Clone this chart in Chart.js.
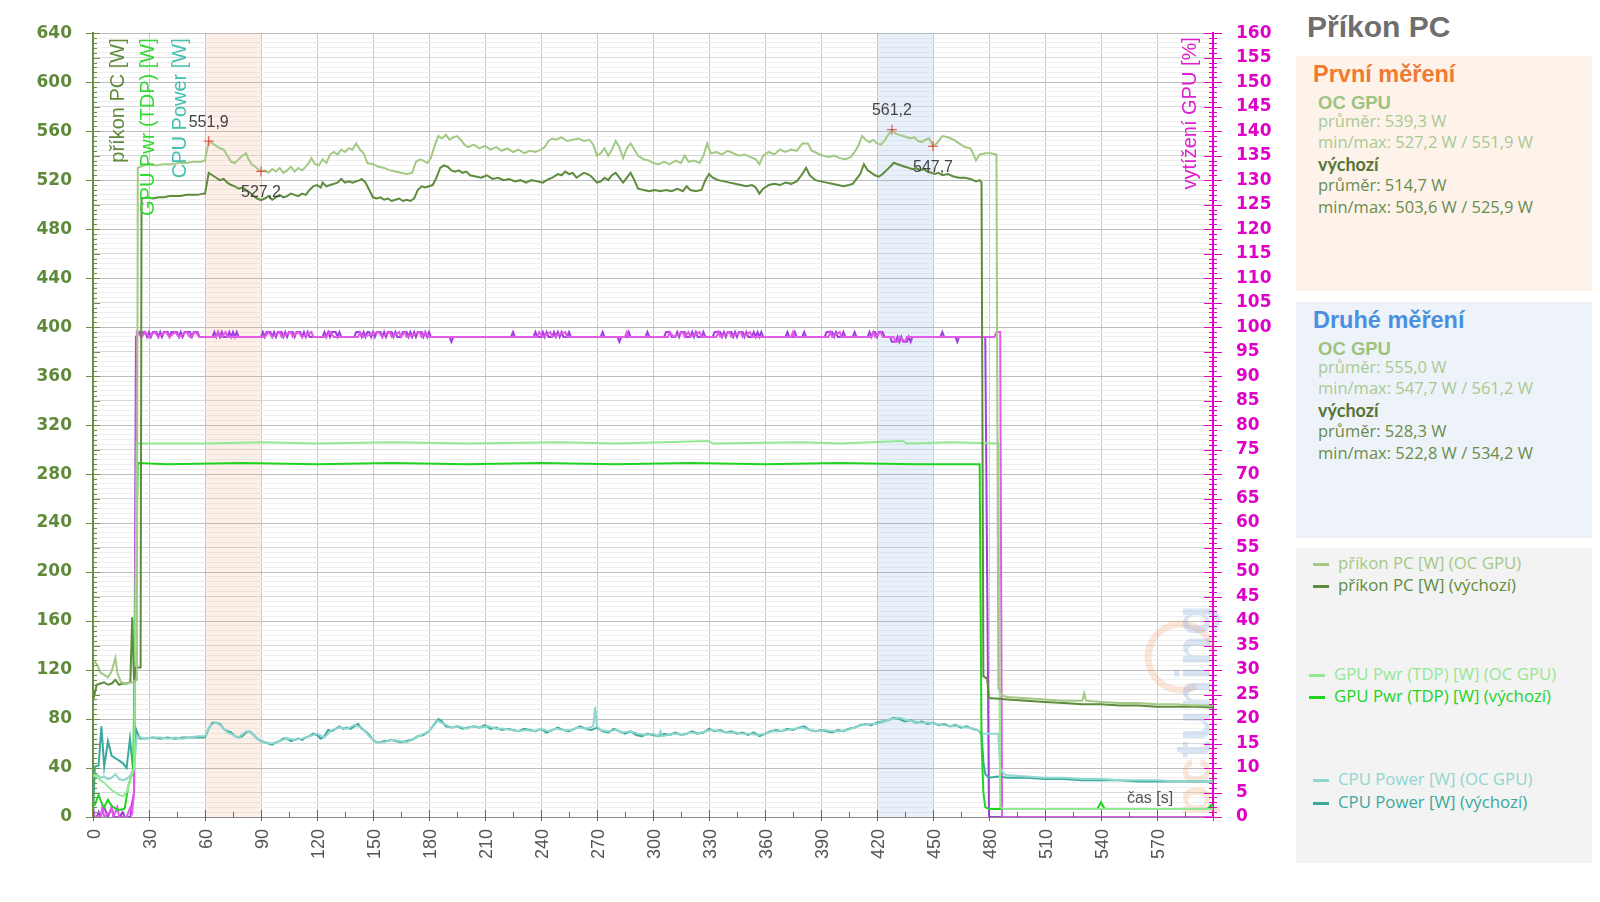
<!DOCTYPE html>
<html><head><meta charset="utf-8">
<script src="https://cdn.jsdelivr.net/npm/chart.js@4.4.0/dist/chart.umd.min.js"></script>
<style>
html,body{margin:0;padding:0;background:#fff;width:1600px;height:902px;overflow:hidden;}
#wrap{position:absolute;left:0;top:0;width:1290px;height:902px;}
.abs{position:absolute;white-space:nowrap;}
.box{position:absolute;left:1296px;width:296px;}
.mk{position:absolute;width:16px;height:3px;}
</style></head><body>
<div id="wrap"><canvas id="c" width="1290" height="902"></canvas></div>
<div class="box" style="top:56px;height:235px;background:#fdf3eb;"></div>
<div class="box" style="top:302px;height:236px;background:#eef3f9;"></div>
<div class="box" style="top:548px;height:315px;background:#f3f3f3;"></div>
<script>
// ---------------- DATA ----------------
const xMax = 600;
const pcOc = [[0,128],[2,125],[4,118],[6,116],[8,114],[10,119],[12,130],[13,118],[15,110],[18,109],[21,110],[23.5,112],[24,530],[27,532],[30,533],[34,532],[38,533],[42,533],[46,534],[50,534],[54,535],[58,535],[60,536],[62,551.9],[64,550],[66,548],[68,546],[70,545],[72,540],[74,535],[76,534],[78,537],[80,540],[82,542],[83,538],[85,533],[87,531],[89,528],[90,527.2],[92,528],[94,526],[96,529],[98,527],[100,530],[102,526],[104,528],[106,531],[108,527],[110,530],[112,528],[114,531],[116,535],[117,538],[119,533],[121,532],[123,537],[125,534],[127,541],[129,543],[131,541],[133,545],[135,543],[137,546],[139,545],[141,550],[143,545],[145,542],[147,534],[150,533],[153,531],[156,530],[159,528],[162,527],[165,526],[168,525],[171,526],[173,535],[175,537],[177,536],[179,534],[181,538],[183,548],[185,556],[187,554],[189,557],[191,553],[193,555],[195,556],[197,553],[199,549],[201,547],[204,549],[207,546],[210,548],[213,545],[216,547],[219,544],[222,546],[225,543],[228,545],[231,542],[234,544],[237,543],[240,545],[242,547],[244,552],[246,554],[248,553],[251,555],[254,552],[257,553],[260,554],[263,552],[266,553],[268,549],[270,540],[272,542],[274,546],[276,540],[278,545],[280,552],[282,547],[284,538],[286,546],[288,550],[290,545],[292,540],[295,537],[298,536],[300,534],[303,533],[306,535],[309,533],[312,536],[315,534],[317,540],[319,535],[322,536],[325,534],[327,540],[329,550],[331,542],[334,543],[337,541],[340,544],[343,542],[346,540],[349,541],[352,539],[355,537],[357,533],[359,540],[362,543],[365,541],[368,545],[371,543],[374,545],[377,544],[380,550],[383,550],[385,544],[388,542],[391,540],[394,539],[397,540],[400,538],[403,537],[406,539],[408,543],[410,548],[412,556],[414,553],[416,551],[418,553],[420,550],[422,549],[424,552],[426,557],[428,561.2],[430,558],[432,557],[434,556],[436,555],[438,554],[440,555],[442,552],[444,551],[446,553],[448,554],[450,547.7],[452,550],[455,556],[458,555],[461,553],[464,550],[467,547],[470,546],[472,540],[473,536],[475,541],[478,542],[481,542],[484,541],[485,105],[486,103],[487,99],[490,98],[500,97],[510,96],[520,95],[530,95],[531,101],[532,95],[540,94],[550,93],[560,93],[570,92],[580,92],[590,91],[600,91]];
const pcDef = [[0,95],[2,108],[4,109],[6,110],[8,108],[10,109],[12,112],[14,108],[16,109],[18,109],[20,110],[21,163],[22,110],[23,122],[25.5,122],[26,505],[29,506],[32,505],[35,506],[38,506],[41,507],[44,507],[47,507],[50,508],[53,508],[56,508],[59,509],[60,509],[62,525.9],[64,524],[66,522],[68,520],[70,521],[72,518],[74,516],[76,515],[78,513],[80,514],[82,512],[84,510],[86,507],[88,505],[90,503.6],[92,505],[94,507],[96,504],[98,506],[100,508],[102,506],[104,507],[106,509],[108,508],[110,507],[112,509],[114,508],[116,512],[118,515],[120,516],[122,514],[123,518],[125,515],[127,516],[129,517],[131,518],[133,521],[135,518],[137,519],[139,518],[141,519],[143,520],[144,521],[146,518],[148,512],[150,506],[152,505],[154,506],[156,504],[158,505],[160,503],[162,504],[164,505],[166,503],[168,504],[170,503],[172,505],[174,512],[176,515],[178,514],[180,515],[182,516],[184,522],[186,530],[188,532],[190,531],[192,528],[194,527],[196,528],[198,526],[200,527],[202,524],[205,523],[208,522],[211,524],[214,521],[217,522],[220,520],[223,521],[226,519],[229,520],[232,518],[235,520],[238,519],[241,518],[243,520],[246,522],[249,525],[251,524],[253,527],[255,525],[257,526],[259,522],[261,524],[263,526],[265,525],[267,523],[270,518],[272,519],[274,522],[276,520],[278,524],[280,526],[282,522],[284,518],[286,522],[288,526],[290,520],[292,513],[295,512],[298,511],[301,512],[304,511],[307,512],[310,511],[313,513],[316,511],[318,515],[320,512],[323,511],[326,512],[328,520],[330,525],[332,522],[335,520],[338,519],[341,518],[344,517],[347,516],[350,515],[353,516],[355,514],[357,509],[359,513],[362,516],[365,517],[368,516],[371,518],[374,517],[377,519],[380,525],[382,530],[384,524],[387,520],[390,519],[393,518],[396,517],[399,516],[402,515],[405,516],[407,517],[409,521],[411,525],[413,533],[415,528],[417,526],[419,524],[421,522.8],[423,525],[425,528],[427,531],[429,534.2],[431,533],[433,532],[435,531],[437,530],[439,529],[441,530],[443,528],[445,529],[447,527],[449,526],[451,525],[453,526],[455,524],[458,525],[461,523],[464,522],[467,522],[470,521],[473,519],[475,520],[476,518],[477,115],[479,113],[480,97],[482,97],[490,96],[500,95],[510,94],[520,93],[530,92],[540,92],[550,91],[560,91],[570,90],[580,90],[590,90],[600,89.5]];
const gpuOc = [[0,36],[2,33],[4,30],[6,28],[8,25],[10,22],[12,20],[14,18],[16,17],[18,20],[20,31],[22,40],[23.5,305],[60,305],[90,306],[120,305],[160,306],[200,305],[250,306],[280,305],[330,307],[332,305],[380,306],[400,305],[434,307],[436,305],[460,306],[485,305],[486,8],[488,6.5],[600,6.5]];
const gpuDef = [[0,11],[1,10],[3,18],[5,10],[6,8],[8,14],[10,9],[11,8],[13,6],[15,6],[17,7],[19,26],[21.5,38],[23,200],[24,289],[40,288],[80,289],[120,288],[160,289],[200,288],[240,289],[280,288],[320,289],[360,288],[400,289],[440,288],[475,288],[476,60],[477,20],[478,8],[480,6.5],[538,6.5],[540,12],[542,6.5],[597,6.5],[599,10],[600,8]];
const cpuOc = [[0,33],[2,35],[4,32],[6,33],[8,31],[10,32],[12,35],[14,31],[16,30],[18,31],[20,34],[22,40],[23.5,66],[28,64],[32,65],[36,65],[40,64],[44,65],[48,64],[52,65],[56,66],[60,66],[63,75],[66,77],[69,74],[72,69],[75,67],[78,65],[82,70],[85,69],[88,64],[92,61],[96,60],[100,62],[104,64],[108,63],[112,64],[116,66],[120,68],[124,65],[128,71],[132,73],[136,72],[140,75],[144,73],[148,66],[152,61],[156,61],[160,63],[164,62],[168,61],[172,64],[176,67],[180,70],[184,79],[188,76],[192,73],[196,74],[200,72],[204,74],[208,73],[212,74],[216,72],[220,72],[224,71],[228,70],[232,71],[236,70],[240,72],[244,70],[248,72],[252,71],[256,71],[260,73],[264,72],[268,74],[269,90],[270,74],[272,71],[276,70],[280,71],[284,69],[288,70],[292,68],[296,67],[300,68],[303,66],[304,70],[305,66],[308,67],[312,68],[316,67],[320,69],[324,68],[328,70],[332,71],[336,70],[340,69],[344,69],[348,68],[352,68],[356,67],[360,68],[364,70],[368,70],[372,71],[376,72],[380,73],[384,71],[388,70],[392,71],[396,70],[400,70],[404,71],[408,73],[412,75],[416,76],[420,76],[424,78],[428,80],[432,81],[436,79],[440,78],[444,77],[448,77],[452,76],[456,75],[460,74],[464,74],[468,73],[472,72],[475,70],[477,68],[485,68],[486,40],[488,35],[490,34],[500,33],[510,32],[520,32],[530,31],[540,31],[550,30],[560,30],[570,30],[580,29],[590,29],[600,29]];
const cpuDef = [[0,0],[1,41],[3,42],[4.5,74],[6,41],[8,62],[10,50],[12,48],[14,46],[16,44],[18,40],[19.8,64],[21.5,38],[23,72],[25,64],[28,64],[32,65],[36,64],[40,65],[44,64],[48,65],[52,65],[56,65],[60,65],[62,72],[64,77],[66,77],[68,76],[70,72],[72,70],[74,69],[76,66],[78,65],[80,66],[82,69],[84,70],[86,67],[88,64],[90,62],[92,61],[94,60],[96,59],[98,61],[100,62],[102,64],[104,64],[106,62],[108,63],[110,64],[112,63],[114,65],[116,66],[118,68],[120,67],[122,64],[124,66],[126,71],[128,70],[130,72],[132,74],[134,72],[136,73],[138,72],[140,74],[142,76],[144,72],[146,70],[148,67],[150,63],[152,61],[154,61],[156,62],[158,62],[160,63],[162,62],[165,61],[168,62],[171,63],[174,66],[177,67],[180,70],[183,76],[185,80],[187,78],[189,74],[192,73],[195,74],[198,72],[201,73],[204,74],[207,73],[210,75],[213,72],[216,73],[219,71],[222,72],[225,71],[228,70],[231,72],[234,71],[237,70],[240,72],[243,69],[246,71],[249,73],[252,71],[255,70],[258,72],[261,74],[264,72],[267,71],[270,73],[273,70],[276,69],[279,72],[282,70],[285,68],[288,70],[291,67],[294,66],[297,68],[300,67],[303,66],[306,68],[309,67],[312,69],[315,67],[318,68],[321,70],[324,68],[327,69],[330,72],[333,70],[336,71],[339,69],[342,70],[345,68],[348,69],[351,67],[354,69],[357,66],[360,68],[363,70],[366,71],[369,70],[372,72],[375,71],[378,73],[381,74],[384,71],[387,70],[390,71],[393,70],[396,69],[399,71],[402,70],[405,72],[408,73],[411,75],[414,76],[417,75],[420,77],[423,78],[426,79],[429,81],[432,80],[435,78],[438,79],[441,77],[444,78],[447,76],[450,77],[453,75],[456,76],[459,74],[462,75],[465,73],[468,74],[471,72],[474,71],[476,68],[477,45],[478,35],[480,32],[485,33],[490,32],[500,32],[510,31],[520,31],[530,30],[540,30],[550,30],[560,29],[570,29],[580,29],[590,29],[600,29]];
const utilOc = [[0,2],[1,0],[4,0],[5,2],[6,0],[9,1],[10,2],[11,0],[13,2],[14,0],[18,0],[20,2],[21,1],[22,5],[23.5,99],[26,98],[28,99],[30,98],[33,99],[35,98],[39,99],[41,98],[44,99],[46,98],[50,99],[52,98],[55,99],[57,98],[66,98],[67,99],[69,98],[71,99],[72,98],[92,98],[94,99],[96,98],[100,99],[101,98],[106,99],[107,98],[110,99],[112,98],[117,99],[118,98],[125,98],[127,99],[129,98],[142,98],[143,99],[145,98],[153,99],[155,98],[159,99],[160,98],[164,99],[165,98],[167,99],[168,98],[175,99],[176,98],[178,99],[180,98],[238,98],[239,99],[241,98],[245,99],[246,98],[253,99],[254,98],[285,98],[286,99],[287,98],[308,98],[309,99],[311,98],[316,99],[317,98],[319,99],[320,98],[325,99],[326,98],[334,98],[335,99],[336,98],[341,99],[342,98],[347,99],[348,98],[352,99],[353,98],[374,98],[375,99],[376,98],[394,98],[395,99],[396,98],[400,99],[401,98],[417,98],[418,99],[419,98],[422,99],[423,98],[429,98],[430,97],[431,97],[432,98],[435,97],[436,98],[483,98],[484,99],[486,99],[487,0],[600,0]];
const utilDef = [[0,0],[2,0],[3,1],[4,0],[6,2],[7,1],[8,0],[10,2],[11,0],[14,0],[16,1],[17,0],[20,0],[21,3],[22,5],[23,98],[25,99],[26,98],[27,99],[28,99],[29,98],[30,99],[31,98],[32,99],[34,99],[35,98],[36,99],[37,98],[38,99],[40,99],[41,98],[42,99],[45,99],[46,98],[47,99],[48,98],[49,99],[52,99],[53,98],[54,99],[56,99],[57,98],[64,98],[65,99],[66,98],[67,99],[68,98],[69,99],[70,98],[72,98],[73,99],[74,98],[75,99],[76,98],[77,99],[78,98],[90,98],[91,99],[92,98],[93,99],[95,99],[96,98],[97,99],[98,98],[99,99],[101,99],[102,98],[103,99],[104,98],[105,99],[107,99],[108,98],[109,99],[111,99],[112,98],[113,99],[114,98],[115,99],[116,98],[123,98],[124,99],[125,98],[126,99],[127,98],[128,99],[130,99],[131,98],[132,99],[133,98],[140,98],[141,99],[143,99],[144,98],[145,99],[146,98],[147,99],[148,99],[149,98],[150,99],[151,98],[152,99],[154,99],[155,98],[156,99],[157,98],[158,99],[160,99],[161,98],[162,99],[163,98],[165,98],[166,99],[168,99],[169,98],[170,99],[171,98],[172,99],[173,98],[174,99],[176,99],[177,98],[178,99],[179,98],[180,99],[181,98],[191,98],[192,97],[193,98],[224,98],[225,99],[226,98],[236,98],[237,99],[238,98],[240,98],[241,99],[242,98],[243,99],[244,98],[246,98],[247,99],[248,98],[249,99],[250,98],[251,99],[252,98],[254,98],[255,99],[256,98],[272,98],[273,99],[274,98],[281,98],[282,97],[283,98],[286,98],[287,99],[288,98],[296,98],[297,99],[298,98],[306,98],[307,99],[309,99],[310,98],[312,98],[313,99],[314,98],[315,99],[317,99],[318,98],[320,98],[321,99],[322,98],[323,99],[324,98],[326,98],[327,99],[328,98],[332,98],[333,99],[336,99],[337,98],[338,99],[339,98],[340,99],[342,99],[343,98],[344,99],[345,98],[346,99],[348,99],[349,98],[350,99],[351,98],[353,98],[354,99],[355,98],[356,99],[357,98],[358,99],[359,98],[371,98],[372,99],[373,98],[375,98],[376,99],[377,98],[380,98],[381,99],[382,98],[392,98],[393,99],[396,99],[397,98],[398,99],[399,98],[401,98],[402,99],[403,98],[407,98],[408,99],[409,98],[415,98],[416,99],[417,98],[418,99],[419,99],[420,98],[421,99],[423,99],[424,98],[427,98],[428,97],[430,97],[431,98],[432,97],[433,98],[434,97],[436,97],[437,98],[438,97],[439,98],[441,98],[454,98],[455,99],[456,98],[462,98],[463,97],[464,98],[476,98],[478,98],[479,50],[480,0],[600,0]];
const bands = [[60,90],[420,450]];
const annT = [62, 90, 428, 450];
const annV = [551.9, 527.2, 561.2, 547.7];
const annKind = ['max','min','max','min'];
const firstOc = [539.3, 527.2, 551.9];
const firstDef = [514.7, 503.6, 525.9];
const secondOc = [555.0, 547.7, 561.2];
const secondDef = [528.3, 522.8, 534.2];
const seriesLabels = ['příkon PC [W] (OC GPU)','příkon PC [W] (výchozí)','GPU Pwr (TDP) [W] (OC GPU)','GPU Pwr (TDP) [W] (výchozí)','CPU Power [W] (OC GPU)','CPU Power [W] (výchozí)','vytížení GPU [%] (OC GPU)','vytížení GPU [%] (výchozí)'];
const axisTitlesLeft = ['příkon PC [W]','GPU Pwr (TDP) [W]','CPU Power [W]'];
const axisTitleRight = 'vytížení GPU [%]';
const xTitle = 'čas [s]';

// ---------------- STYLE ----------------
const C = {pcOc:'#a3c985', pcDef:'#5e8c3e', gpuOc:'#93e893', gpuDef:'#1fd41f', cpuOc:'#8fd6cf', cpuDef:'#3ba99c', utilOc:'#e35ae8', utilDef:'#a23fe0', left:'#5f8a3a', right:'#e000c8'};
const fmt = v => v.toFixed(1).replace('.', ',');
const toXY = a => a.map(p => ({x:p[0], y:p[1]}));

function ds(i, data, color, axis, w){
  return {label: seriesLabels[i], data: toXY(data), borderColor: color, backgroundColor: color, borderWidth: w||2, pointRadius: 0, tension: 0, fill:false, yAxisID: axis};
}

const deco = {
  id:'deco',
  beforeDatasetsDraw(chart){
    const {ctx, chartArea:a, scales:{x}} = chart;
    ctx.save();
    const bc = ['rgba(245,165,120,0.17)','rgba(130,170,225,0.18)'];
    bands.forEach((b,i)=>{
      const x0 = x.getPixelForValue(b[0]), x1 = x.getPixelForValue(b[1]);
      ctx.fillStyle = bc[i];
      ctx.fillRect(x0, a.top, x1-x0, a.bottom-a.top);
    });
    // watermark
    ctx.globalAlpha = 0.26;
    ctx.strokeStyle = '#f0a070'; ctx.lineWidth = 7;
    ctx.beginPath(); ctx.arc(1181, 657, 33, 0.35*Math.PI, 1.95*Math.PI); ctx.stroke();
    ctx.translate(1210, 816); ctx.rotate(-Math.PI/2);
    ctx.font = 'bold 50px "Liberation Sans"'; ctx.textAlign='left'; ctx.textBaseline='alphabetic';
    ctx.fillStyle = '#f0a070'; ctx.fillText('pc', 0, 0);
    const w = ctx.measureText('pc').width;
    ctx.fillStyle = '#6f9bd0'; ctx.fillText('tuning', w, 0);
    ctx.restore();
  },
  afterDatasetsDraw(chart){
    const {ctx, chartArea:a, scales:{x, y, y1}} = chart;
    ctx.save();
    ctx.lineWidth = 1;
    // left ticks
    ctx.strokeStyle = '#6b8f45';
    ctx.beginPath();
    y.ticks.forEach(t=>{
      const py = Math.round(y.getPixelForValue(t.value)) + 0.5;
      let x0 = a.left, x1 = a.left + 4;
      if (t.value % 40 === 0) { x0 = a.left - 7; x1 = a.left + 7; }
      else if (t.value % 20 === 0) { x1 = a.left + 7; }
      ctx.moveTo(x0, py); ctx.lineTo(x1, py);
    });
    ctx.stroke();
    // right ticks
    ctx.strokeStyle = C.right;
    ctx.beginPath();
    y1.ticks.forEach(t=>{
      const py = Math.round(y1.getPixelForValue(t.value)) + 0.5;
      let x0 = a.right - 4, x1 = a.right + 4;
      if (t.value % 5 === 0) { x0 = a.right - 9; x1 = a.right + 9; }
      ctx.moveTo(x0, py); ctx.lineTo(x1, py);
    });
    ctx.stroke();
    // x ticks
    ctx.strokeStyle = '#666';
    ctx.beginPath();
    x.ticks.forEach(t=>{
      const px = Math.round(x.getPixelForValue(t.value)) + 0.5;
      let y0 = a.bottom - 5, yy = a.bottom;
      if (t.value % 30 === 0) { y0 = a.bottom - 7; yy = a.bottom + 4; }
      ctx.moveTo(px, y0); ctx.lineTo(px, yy);
    });
    ctx.stroke();
    // annotations
    ctx.font = '16px "Liberation Sans"'; ctx.fillStyle = '#444'; ctx.textAlign = 'center'; ctx.textBaseline = 'middle';
    annT.forEach((t,i)=>{
      const px = x.getPixelForValue(t), py = y.getPixelForValue(annV[i]);
      ctx.fillText(fmt(annV[i]), px, py + (annKind[i] === 'max' ? -19 : 21));
    });
    // axis titles (inside plot)
    const tc = [C.left, '#33d933', '#45c0b0'];
    const tx = [a.left + 25, a.left + 55, a.left + 87];
    ctx.font = '20px "Liberation Sans"'; ctx.textAlign = 'right'; ctx.textBaseline = 'middle';
    axisTitlesLeft.forEach((s,i)=>{
      ctx.save(); ctx.translate(tx[i], a.top + 5); ctx.rotate(-Math.PI/2);
      ctx.fillStyle = tc[i]; ctx.fillText(s, 0, 0); ctx.restore();
    });
    ctx.save(); ctx.translate(a.right - 23, a.top + 4); ctx.rotate(-Math.PI/2);
    ctx.fillStyle = '#e020d0'; ctx.fillText(axisTitleRight, 0, 0); ctx.restore();
    ctx.font = '16px "Liberation Sans"'; ctx.fillStyle = '#555'; ctx.textAlign = 'center';
    ctx.fillText(xTitle, a.right - 63, a.bottom - 18);
    ctx.restore();
  }
};

const chart = new Chart(document.getElementById('c'), {
  type: 'line',
  data: { datasets: [
    ds(0, pcOc, C.pcOc, 'y'),
    ds(1, pcDef, C.pcDef, 'y'),
    ds(2, gpuOc, C.gpuOc, 'y'),
    ds(3, gpuDef, C.gpuDef, 'y'),
    ds(4, cpuOc, C.cpuOc, 'y'),
    ds(5, cpuDef, C.cpuDef, 'y'),
    ds(6, utilOc, C.utilOc, 'y1'),
    ds(7, utilDef, C.utilDef, 'y1'),
    {type:'scatter', label:'min/max', data: annT.map((t,i)=>({x:t, y:annV[i]})), pointStyle:'cross', pointRadius:5, borderColor:'#e8413a', borderWidth:1, yAxisID:'y', order:-1}
  ]},
  options: {
    responsive: false, animation: false, devicePixelRatio: 1,
    layout: { padding: {top: 30, left: 0, right: 0, bottom: 0} },
    plugins: { legend: {display:false}, tooltip: {enabled:false} },
    scales: {
      x: { type:'linear', min:0, max:xMax, afterFit(s){ s.height = 85; },
        ticks: { stepSize:15, autoSkip:false, maxTicksLimit:1000, maxRotation:90, minRotation:90, padding:12, labelOffset:2, color:'#555',
          font:{family:'Liberation Sans', size:18}, callback: v => (v % 30 === 0 && v < xMax) ? String(v) : '' },
        grid: { drawTicks:false, lineWidth:1, color: c => (c.tick && c.tick.value % 30 === 0) ? '#c8c8c8' : 'rgba(0,0,0,0)' },
        border: { color:'#8a8a8a', width:1 } },
      y: { position:'left', min:0, max:640, afterFit(s){ s.width = 93; },
        ticks: { stepSize:4, autoSkip:false, maxTicksLimit:1000, padding:21, color:C.left,
          font:{family:'DejaVu Sans', size:17, weight:'bold'}, callback: v => v % 40 === 0 ? String(v) : '' },
        grid: { drawTicks:false, lineWidth:1, color: c => { const v = c.tick ? c.tick.value : 0; return v % 40 === 0 ? '#bdbdbd' : (v % 20 === 0 ? '#d8d8d8' : '#efefef'); } },
        border: { color:'#6b8f45', width:2 } },
      y1: { position:'right', min:0, max:160, afterFit(s){ s.width = 77; },
        ticks: { stepSize:1, autoSkip:false, maxTicksLimit:1000, padding:23, color:C.right,
          font:{family:'DejaVu Sans', size:17, weight:'bold'}, callback: v => v % 5 === 0 ? String(v) : '' },
        grid: { drawOnChartArea:false, drawTicks:false },
        border: { color:C.right, width:2 } }
    }
  },
  plugins: [deco]
});

// ---------------- PANEL ----------------
function addText(txt, left, baseline, family, size, weight, color, ascK){
  const d = document.createElement('div');
  d.className = 'abs'; d.textContent = txt;
  d.style.font = `${weight} ${size}px ${family}`;
  d.style.lineHeight = '1';
  d.style.left = left + 'px';
  d.style.top = (baseline - ascK*size) + 'px';
  d.style.color = color;
  document.body.appendChild(d);
}
const LS = '"Liberation Sans"', OS = '"Open Sans"', LA = 'Lato';
addText('Příkon PC', 1307, 37, LS, 30, 'bold', '#6e6e6e', 0.8465);
function block(title, tcol, base, oc, def){
  addText(title, 1313, base, LS, 23.5, 'bold', tcol, 0.8465);
  addText('OC GPU', 1318, base+26.5, LS, 18.5, 'bold', '#9cc47e', 0.8465);
  addText('průměr: ' + fmt(oc[0]) + ' W', 1318, base+44.4, OS, 16.5, 'normal', '#a9c993', 0.888);
  addText('min/max: ' + fmt(oc[1]) + ' W / ' + fmt(oc[2]) + ' W', 1318, base+65.7, OS, 16.5, 'normal', '#a9c993', 0.888);
  addText('výchozí', 1318, base+87.5, LA, 18, 'bold', '#557535', 0.887);
  addText('průměr: ' + fmt(def[0]) + ' W', 1318, base+108.4, OS, 16.5, 'normal', '#6a8c4c', 0.888);
  addText('min/max: ' + fmt(def[1]) + ' W / ' + fmt(def[2]) + ' W', 1318, base+130, OS, 16.5, 'normal', '#6a8c4c', 0.888);
}
block('První měření', '#f07a30', 83.3, firstOc, firstDef);
block('Druhé měření', '#4a8fe0', 329.3, secondOc, secondDef);
// legend
const legY = [564, 586, 675, 697, 780, 803];
const legX = [1338, 1338, 1334, 1334, 1338, 1338];
const legC = [C.pcOc, C.pcDef, C.gpuOc, C.gpuDef, C.cpuOc, C.cpuDef];
legY.forEach((cy,i)=>{
  const m = document.createElement('div');
  m.className = 'mk'; m.style.left = (legX[i]-25) + 'px'; m.style.top = (cy-1) + 'px'; m.style.background = legC[i];
  document.body.appendChild(m);
  addText(seriesLabels[i], legX[i], cy + 5.8, OS, 16.8, 'normal', legC[i], 0.888);
});
</script>
</body></html>
